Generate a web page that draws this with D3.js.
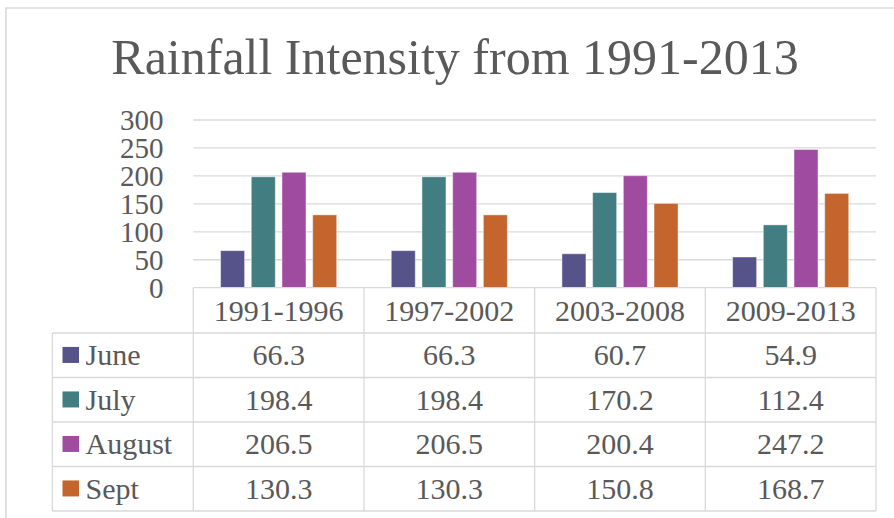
<!DOCTYPE html>
<html>
<head>
<meta charset="utf-8">
<script src="https://cdn.jsdelivr.net/npm/d3@7"></script>
<style>
  html, body { margin: 0; padding: 0; background: #fff; }
  svg { display: block; }
</style>
</head>
<body>
<svg id="chart" width="894" height="518"></svg>
<script>
const title = "Rainfall Intensity from 1991-2013";
const categories = ["1991-1996", "1997-2002", "2003-2008", "2009-2013"];
const seriesNames = ["June", "July", "August", "Sept"];
const june = [66.3, 66.3, 60.7, 54.9];
const july = [198.4, 198.4, 170.2, 112.4];
const august = [206.5, 206.5, 200.4, 247.2];
const sept = [130.3, 130.3, 150.8, 168.7];
const yTicks = [0, 50, 100, 150, 200, 250, 300];
const colors = ["#55538a", "#427d82", "#9f4ca0", "#c3652c"];

const seriesValues = [june, july, august, sept];
const FONT = "'Liberation Serif', 'Times New Roman', serif";
const TXT = "#595959";

const svg = d3.select("#chart").style("font-family", FONT);
const gridColor = "#d9d9d9";

function styleText(sel, size) {
  return sel.style("font-family", FONT).style("font-size", size + "px").style("fill", TXT);
}

// frame
svg.append("path")
  .attr("d", "M6,518 L6,8 L894,8")
  .attr("fill", "none").attr("stroke", gridColor).attr("stroke-width", 1.6);

// title
styleText(svg.append("text")
  .attr("x", 455).attr("y", 74)
  .attr("text-anchor", "middle"), 50)
  .text(title);

const plotLeft = 193.3, plotRight = 876, plotTop = 120, plotBottom = 287.7;

const x0 = d3.scaleBand().domain(categories).range([plotLeft, plotRight]).padding(0);
const x1 = d3.scaleBand().domain(seriesNames).range([0, x0.bandwidth()])
  .paddingInner(0.218).paddingOuter(0.889);
const y = d3.scaleLinear().domain([0, 300]).range([plotBottom, plotTop]);

// gridlines
svg.append("g").selectAll("line").data(yTicks.filter(d => d > 0)).join("line")
  .attr("x1", plotLeft).attr("x2", plotRight)
  .attr("y1", d => y(d)).attr("y2", d => y(d))
  .attr("stroke", gridColor).attr("stroke-width", 1.3);

// y axis labels
const yAxis = d3.axisLeft(y).tickValues(yTicks).tickSize(0).tickPadding(0);
const gy = svg.append("g").attr("transform", `translate(163.5,0)`).call(yAxis)
  .attr("font-family", null).attr("font-size", null);
gy.select(".domain").remove();
styleText(gy.selectAll("text"), 29).attr("fill", TXT).attr("dy", "0.34em");

// bars
const groups = svg.append("g").selectAll("g").data(categories).join("g")
  .attr("transform", d => `translate(${x0(d)},0)`);
groups.selectAll("rect")
  .data((c, ci) => seriesNames.map((s, si) => ({ s, si, v: seriesValues[si][ci] })))
  .join("rect")
  .attr("x", d => x1(d.s))
  .attr("width", x1.bandwidth())
  .attr("y", d => y(d.v))
  .attr("height", d => y(0) - y(d.v))
  .attr("fill", d => colors[d.si])
  .attr("stroke", "#ffffff").attr("stroke-opacity", 0.45).attr("stroke-width", 1);

// data table
const tableTop = plotBottom;
const headerH = 45.3;
const rowH = 44.5;
const legendLeft = 52.3;
const rowsTop = tableTop + headerH;
const tableBottom = rowsTop + rowH * seriesNames.length;

const tg = svg.append("g");
tg.append("line").attr("x1", plotLeft).attr("x2", plotRight)
  .attr("y1", tableTop).attr("y2", tableTop)
  .attr("stroke", gridColor).attr("stroke-width", 1.3);
d3.range(seriesNames.length + 1).forEach(i => {
  const yy = rowsTop + i * rowH;
  tg.append("line").attr("x1", legendLeft).attr("x2", plotRight)
    .attr("y1", yy).attr("y2", yy)
    .attr("stroke", gridColor).attr("stroke-width", 1.3);
});
tg.append("line").attr("x1", legendLeft).attr("x2", legendLeft)
  .attr("y1", rowsTop).attr("y2", tableBottom)
  .attr("stroke", gridColor).attr("stroke-width", 1.3);
categories.concat([null]).forEach(c => {
  const xx = c === null ? plotRight : x0(c);
  tg.append("line").attr("x1", xx).attr("x2", xx)
    .attr("y1", tableTop).attr("y2", tableBottom)
    .attr("stroke", gridColor).attr("stroke-width", 1.3);
});

// header labels
styleText(tg.selectAll("text.cat").data(categories).join("text")
  .attr("class", "cat")
  .attr("x", d => x0(d) + x0.bandwidth() / 2)
  .attr("y", tableTop + headerH / 2)
  .attr("dy", "0.34em")
  .attr("text-anchor", "middle"), 30)
  .text(d => d);

// rows
seriesNames.forEach((s, si) => {
  const cy = rowsTop + si * rowH + rowH / 2;
  tg.append("rect")
    .attr("x", 62.5).attr("y", cy - 8.3)
    .attr("width", 16.5).attr("height", 16)
    .attr("fill", colors[si]);
  styleText(tg.append("text")
    .attr("x", 85.5).attr("y", cy).attr("dy", "0.34em"), 30)
    .text(s);
  categories.forEach((c, ci) => {
    styleText(tg.append("text")
      .attr("x", x0(c) + x0.bandwidth() / 2)
      .attr("y", cy).attr("dy", "0.34em")
      .attr("text-anchor", "middle"), 30)
      .text(seriesValues[si][ci].toFixed(1));
  });
});
</script>
</body>
</html>
